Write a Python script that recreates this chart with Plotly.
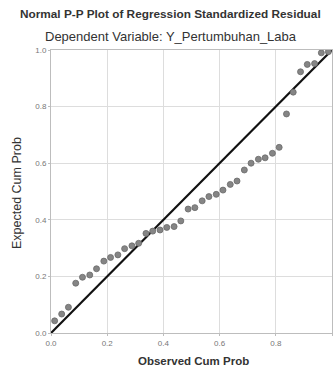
import plotly.graph_objects as go

title_main = "Normal P-P Plot of Regression Standardized Residual"
title_sub = "Dependent Variable: Y_Pertumbuhan_Laba"
x_label = "Observed Cum Prob"
y_label = "Expected Cum Prob"

observed = [0.013, 0.038, 0.062, 0.088, 0.112, 0.138, 0.162, 0.188, 0.212, 0.238,
            0.262, 0.288, 0.312, 0.338, 0.362, 0.388, 0.412, 0.438, 0.462, 0.488,
            0.512, 0.538, 0.562, 0.588, 0.612, 0.638, 0.662, 0.688, 0.712, 0.738,
            0.762, 0.788, 0.812, 0.838, 0.862, 0.888, 0.912, 0.938, 0.962, 0.987]
expected = [0.043, 0.067, 0.091, 0.176, 0.197, 0.205, 0.227, 0.254, 0.267, 0.276,
            0.298, 0.308, 0.317, 0.352, 0.360, 0.364, 0.373, 0.376, 0.396, 0.438,
            0.443, 0.467, 0.482, 0.490, 0.505, 0.525, 0.537, 0.576, 0.600, 0.614,
            0.619, 0.635, 0.656, 0.774, 0.851, 0.923, 0.949, 0.952, 0.990, 0.994]
diag = [0.0, 1.0]
tick_vals = [0.0, 0.2, 0.4, 0.6, 0.8, 1.0]
x_tick_text = ["0.0", "0.2", "0.4", "0.6", "0.8", "1.0"]
y_tick_text = ["0.0", "0.2", "0.4", "0.6", "0.8", "1.0"]

FONT = "Arial, Liberation Sans, sans-serif"
W, H = 334, 369
ML, MR, MT, MB = 51, 2, 50, 36
plot_w = W - ML - MR
plot_h = H - MT - MB


def px(pix):
    return (pix - ML) / plot_w


def py(pix):
    return (H - MB - pix) / plot_h


fig = go.Figure()
fig.add_trace(go.Scatter(x=diag, y=diag, mode="lines",
                         line=dict(color="#111111", width=2.2),
                         hoverinfo="skip", showlegend=False))
fig.add_trace(go.Scatter(x=observed, y=expected, mode="markers",
                         marker=dict(size=6, color="#858585",
                                     line=dict(color="#6a6a6a", width=0.8)),
                         showlegend=False))

fig.update_layout(
    width=W, height=H,
    margin=dict(l=ML, r=MR, t=MT, b=MB, autoexpand=False),
    paper_bgcolor="white", plot_bgcolor="white",
    font=dict(family=FONT, color="#222222"),
    annotations=[
        dict(text="<b>" + title_main + "</b>", x=px(170), y=py(14), xref="paper", yref="paper",
             showarrow=False, font=dict(size=11.8, color="#333333"),
             xanchor="center", yanchor="middle"),
        dict(text=title_sub, x=px(171), y=py(36), xref="paper", yref="paper",
             showarrow=False, font=dict(size=13, color="#333333"),
             xanchor="center", yanchor="middle"),
        dict(text="<b>" + x_label + "</b>", x=px(193), y=py(361), xref="paper", yref="paper",
             showarrow=False, font=dict(size=11.5, color="#333333"),
             xanchor="center", yanchor="middle"),
        dict(text=y_label, x=px(17), y=py(193), xref="paper", yref="paper",
             showarrow=False, textangle=-90, font=dict(size=12.5, color="#333333"),
             xanchor="center", yanchor="middle"),
    ],
)

axis_common = dict(range=[0, 1], tickvals=tick_vals, showgrid=True, gridcolor="#dddddd",
                   gridwidth=1, zeroline=False, showline=True, linecolor="#bdbdbd",
                   linewidth=1, mirror=True, ticks="outside", ticklen=2, tickcolor="#bdbdbd",
                   tickfont=dict(size=8, color="#777777", family=FONT), fixedrange=True)
fig.update_xaxes(**axis_common, ticktext=x_tick_text)
fig.update_yaxes(**axis_common, ticktext=y_tick_text)

fig.write_html("out.html", config={"displayModeBar": False},
               post_script="document.body.style.margin='0';")
